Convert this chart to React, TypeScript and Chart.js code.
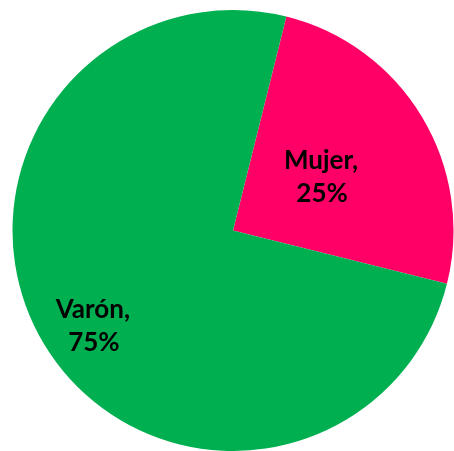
import React, { useEffect, useRef } from "react";
import { Chart, registerables } from "chart.js";

Chart.register(...registerables);

const categories = ["Mujer", "Varón"];
const values = [25, 75];
const percentLabels = ["25%", "75%"];
const colors = ["#FF0066", "#00B050"];

// label placement: fraction of radius and angle shift (degrees) from slice middle
const labelPlacement = [
  { r: 0.466, shift: 0 },
  { r: 0.77, shift: -3.4 },
];

const labelPlugin = {
  id: "sliceLabels",
  afterDatasetsDraw(chart: any) {
    const ctx = chart.ctx;
    const meta = chart.getDatasetMeta(0);
    ctx.save();
    ctx.font = "bold 26px Lato, 'Liberation Sans', sans-serif";
    ctx.fillStyle = "#000000";
    ctx.textAlign = "center";
    ctx.textBaseline = "middle";
    meta.data.forEach((arc: any, i: number) => {
      const p = labelPlacement[i];
      const mid = (arc.startAngle + arc.endAngle) / 2 + (p.shift * Math.PI) / 180;
      const d = arc.outerRadius * p.r;
      const x = arc.x + Math.cos(mid) * d;
      const y = arc.y + Math.sin(mid) * d;
      ctx.fillText(categories[i] + ",", x, y - 16.5);
      ctx.fillText(percentLabels[i], x + 1, y + 16.5);
    });
    ctx.restore();
  },
};

export default function App() {
  const ref = useRef<HTMLCanvasElement | null>(null);
  useEffect(() => {
    document.body.style.margin = "0";
    const chart = new Chart(ref.current!, {
      type: "pie",
      data: {
        labels: categories,
        datasets: [
          {
            data: values,
            backgroundColor: colors,
            borderWidth: 0,
          },
        ],
      },
      options: {
        animation: false,
        responsive: false,
        rotation: 14,
        layout: { padding: { left: 12, right: 0, top: 10, bottom: 0 } },
        plugins: {
          legend: { display: false },
          tooltip: { enabled: false },
        },
      },
      plugins: [labelPlugin],
    });
    return () => chart.destroy();
  }, []);
  return (
    <div style={{ width: 454, height: 451 }}>
      <canvas ref={ref} width={454} height={451} style={{ display: "block" }} />
    </div>
  );
}
